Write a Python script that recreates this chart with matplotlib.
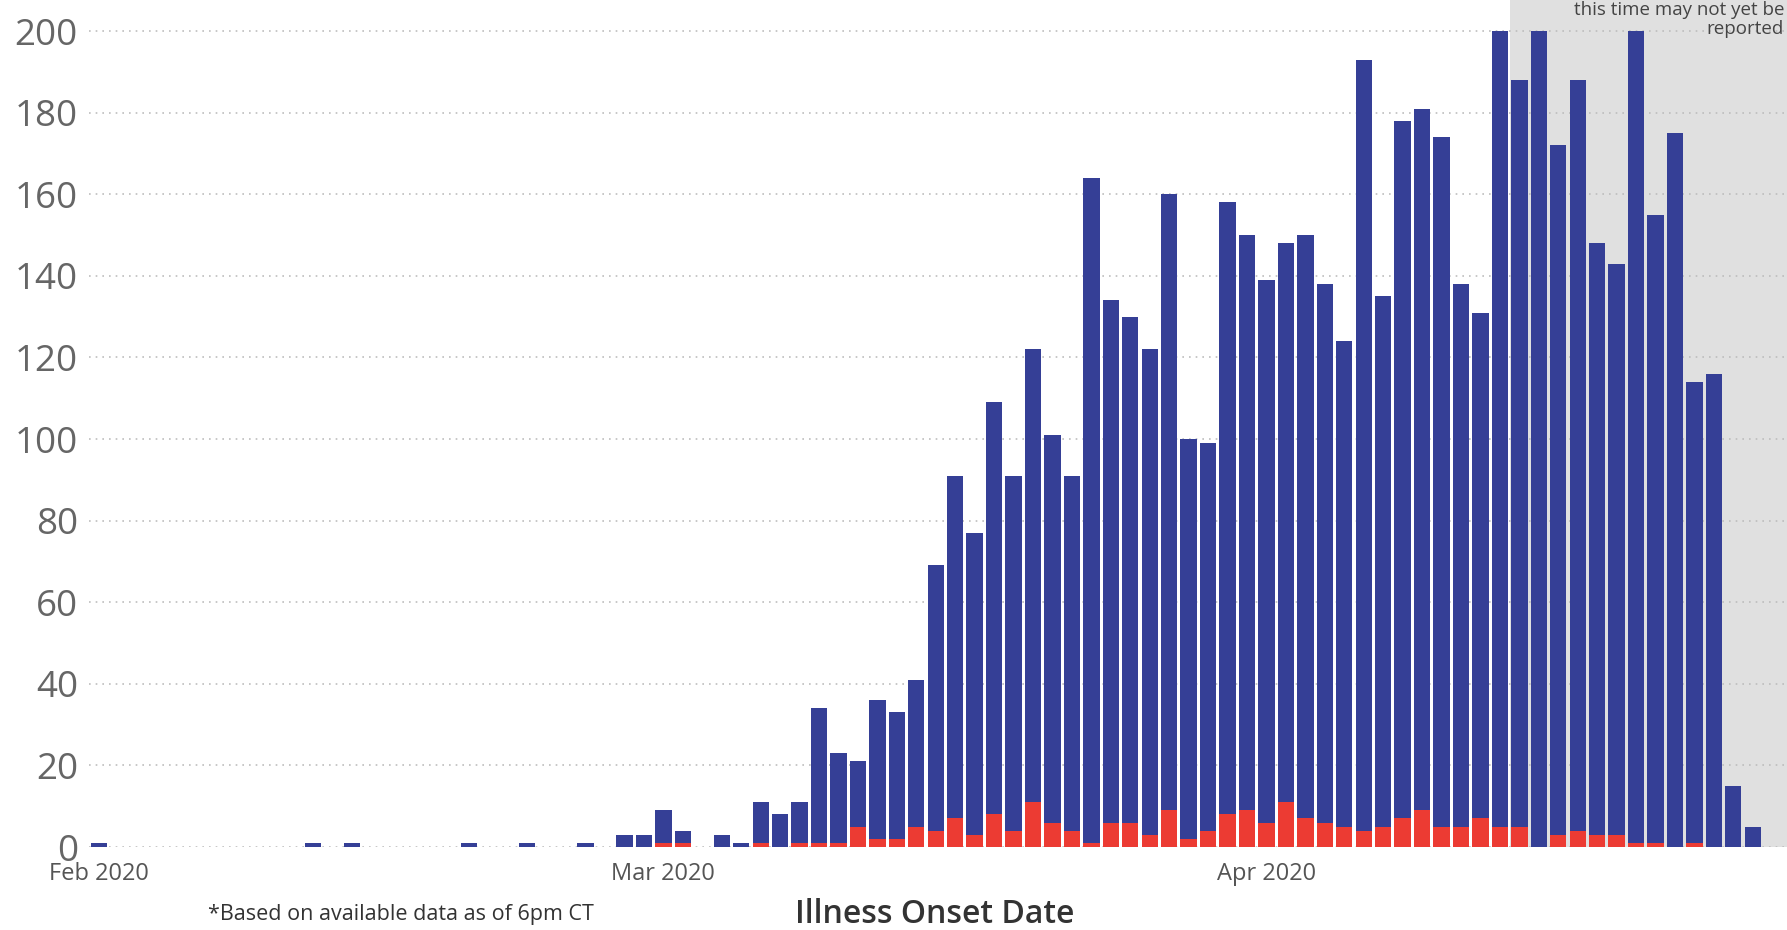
import matplotlib.pyplot as plt
import pandas as pd

# daily onset dates, Feb 1 .. Apr 26 2020
dates = pd.date_range('2020-02-01', '2020-04-26', freq='D')

# total cases per day (top of each stacked bar)
totals = [1, 0, 0, 0, 0, 0, 0, 0, 0, 0,
          0, 1, 0, 1, 0, 0, 0, 0, 0, 1,
          0, 0, 1, 0, 0, 1, 0, 3, 3, 9,
          4, 0, 3, 1, 11, 8, 11, 34, 23, 21,
          36, 33, 41, 69, 91, 77, 109, 91, 122, 101,
          91, 164, 134, 130, 122, 160, 100, 99, 158, 150,
          139, 148, 150, 138, 124, 193, 135, 178, 181, 174,
          138, 131, 200, 188, 200, 172, 188, 148, 143, 200,
          155, 175, 114, 116, 15, 5]

# red portion at the bottom of each bar
red = [0, 0, 0, 0, 0, 0, 0, 0, 0, 0,
       0, 0, 0, 0, 0, 0, 0, 0, 0, 0,
       0, 0, 0, 0, 0, 0, 0, 0, 0, 1,
       1, 0, 0, 0, 1, 0, 1, 1, 1, 5,
       2, 2, 5, 4, 7, 3, 8, 4, 11, 6,
       4, 1, 6, 6, 3, 9, 2, 4, 8, 9,
       6, 11, 7, 6, 5, 4, 5, 7, 9, 5,
       5, 7, 5, 5, 0, 3, 4, 3, 3, 1,
       1, 0, 1, 0, 0, 0]

blue = [t - r for t, r in zip(totals, red)]

# first day of the "may not yet be reported" shaded period
shade_start = pd.Timestamp('2020-04-14')

yticks = list(range(0, 201, 20))

plt.rcParams['font.family'] = ['Open Sans', 'DejaVu Sans']

fig = plt.figure(figsize=(17.87, 9.30), dpi=100)
ax = fig.add_axes([89 / 1787, 1 - 847 / 930, 1 - 89 / 1787, 847 / 930])

x = list(range(len(dates)))
shade_x = list(dates).index(shade_start) - 0.5
ax.axvspan(shade_x, len(dates) + 5, color='#e0e0e0', zorder=0, lw=0)

ax.bar(x, red, width=0.84, color='#ec3b33', zorder=3)
ax.bar(x, blue, bottom=red, width=0.84, color='#353f96', zorder=3)

for y in yticks:
    ax.axhline(y, color='#bdbdbd', lw=1.2, ls=(0, (1, 3)), zorder=1)

ax.set_xlim(-0.53, 86.76)
ax.set_ylim(0, 207.6)
ax.set_yticks(yticks)
ax.set_yticklabels([str(v) for v in yticks], fontsize=26.5, color='#666666')

month_pos = [i for i, d in enumerate(dates) if d.day == 1]
ax.set_xticks(month_pos)
ax.set_xticklabels([dates[i].strftime('%b %Y') for i in month_pos],
                   fontsize=17, color='#555555')

ax.tick_params(axis='both', length=0)
ax.tick_params(axis='y', pad=8)
ax.tick_params(axis='x', pad=11)
for s in ax.spines.values():
    s.set_visible(False)

fig.text(935 / 1787, 1 - 914 / 930, 'Illness Onset Date', ha='center', va='center',
         fontsize=23, fontweight='semibold', color='#333333')
fig.text(401 / 1787, 1 - 914 / 930, '*Based on available data as of 6pm CT',
         ha='center', va='center', fontsize=15.5, color='#333333')
fig.text(1784 / 1787, 1 - 38 / 930, 'this time may not yet be\nreported',
         ha='right', va='bottom', fontsize=13.5, color='#444444', linespacing=1.1)

plt.savefig('out.png')
plt.close(fig)
